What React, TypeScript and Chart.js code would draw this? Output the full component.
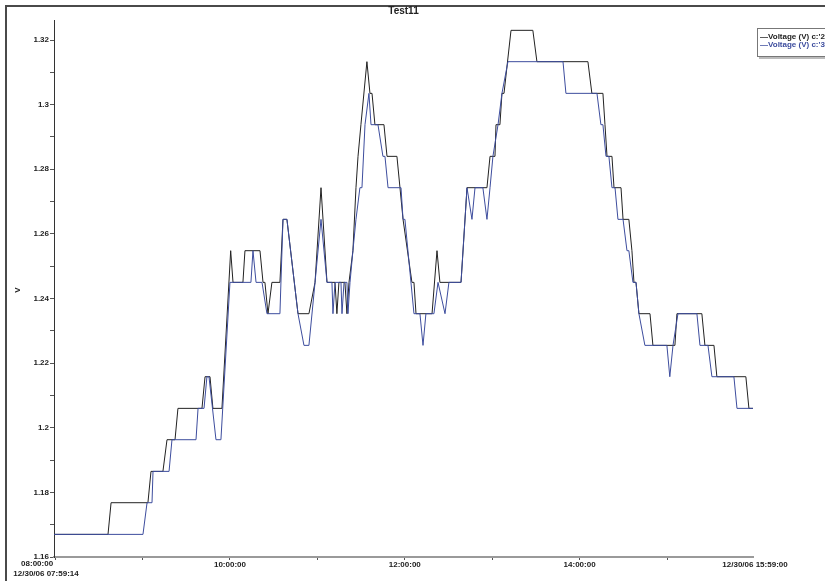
import { useEffect, useRef } from "react";
import { Chart, registerables } from "chart.js";

Chart.register(...registerables);

const FONT = '"Liberation Sans", Arial, sans-serif';

const chartTitle = "Test11";
const yAxisTitle = "V";
const seriesNames = ["Voltage (V) c:'2", "Voltage (V) c:'3"];
const seriesColors = ["#222222", "#3d4d9e"];

// minutes after 08:00:00
const xMin = -0.77; // 07:59:14
const xMax = 479; // 15:59:00
const hourTicks = [0, 60, 120, 180, 240, 300, 360, 420];
const hourLabels = ["08:00:00", "", "10:00:00", "", "12:00:00", "", "14:00:00", ""];
const startLabel = "12/30/06 07:59:14";
const endLabel = "12/30/06 15:59:00";

const yMin = 1.16;
const yMax = 1.3262;
const yTickValues = [1.16, 1.17, 1.18, 1.19, 1.2, 1.21, 1.22, 1.23, 1.24, 1.25, 1.26, 1.27, 1.28, 1.29, 1.3, 1.31, 1.32];
const yTickLabels = ["1.16", "", "1.18", "", "1.2", "", "1.22", "", "1.24", "", "1.26", "", "1.28", "", "1.3", "", "1.32"];

const series2Times = [
  -0.77, 36.3, 38.4, 63.7, 65.8, 74.0, 76.8, 82.3, 84.3, 100.8,
  102.9, 106.3, 108.3, 114.5, 120.5, 122.1, 128.9, 130.3, 140.6, 142.7,
  144.0, 146.1, 148.8, 154.3, 156.4, 159.1, 166.7, 174.2, 178.4, 182.5,
  186.6, 192.1, 193.4, 194.8, 198.9, 200.3, 201.7, 204.4, 206.5, 207.9,
  209.9, 214.0, 216.1, 217.5, 219.5, 225.7, 227.8, 234.6, 236.7, 238.8,
  244.9, 246.3, 247.7, 258.7, 262.1, 264.1, 278.6, 282.7, 296.4, 298.5,
  301.9, 302.6, 305.3, 306.7, 308.1, 312.9, 327.9, 330.7, 365.7, 368.4,
  376.0, 377.4, 378.8, 382.2, 383.6, 388.4, 389.8, 393.8, 395.9, 397.3,
  398.7, 400.7, 408.3, 410.3, 425.4, 426.8, 443.9, 446.0, 452.2, 454.2,
  474.1, 476.2, 479.0,
];
const series2Volts = [
  1.167, 1.167, 1.1768, 1.1768, 1.1865, 1.1865, 1.1963, 1.1963, 1.206, 1.206,
  1.2158, 1.2158, 1.206, 1.206, 1.2548, 1.245, 1.245, 1.2548, 1.2548, 1.245,
  1.245, 1.2353, 1.245, 1.245, 1.2645, 1.2645, 1.2353, 1.2353, 1.245, 1.2743,
  1.245, 1.245, 1.2353, 1.245, 1.245, 1.2353, 1.245, 1.2548, 1.2743, 1.284,
  1.2938, 1.3133, 1.3035, 1.3035, 1.2938, 1.2938, 1.284, 1.284, 1.2743, 1.2645,
  1.245, 1.245, 1.2353, 1.2353, 1.2548, 1.245, 1.245, 1.2743, 1.2743, 1.284,
  1.284, 1.2938, 1.2938, 1.3035, 1.3035, 1.323, 1.323, 1.3133, 1.3133, 1.3035,
  1.3035, 1.2938, 1.284, 1.284, 1.2743, 1.2743, 1.2645, 1.2645, 1.2548, 1.245,
  1.245, 1.2353, 1.2353, 1.2255, 1.2255, 1.2353, 1.2353, 1.2255, 1.2255, 1.2158,
  1.2158, 1.206, 1.206,
];

const series3Times = [
  -0.77, 60.3, 63.1, 66.5, 67.2, 78.2, 80.2, 96.7, 98.1, 102.2,
  104.2, 105.6, 110.4, 113.8, 120.0, 134.4, 135.8, 137.9, 142.0, 145.4,
  154.3, 156.4, 159.1, 166.7, 170.8, 174.2, 178.4, 182.5, 186.6, 190.0,
  190.7, 192.1, 196.2, 196.9, 198.3, 200.3, 201.0, 202.4, 204.4, 206.5,
  209.2, 210.6, 212.7, 215.4, 216.8, 221.6, 225.0, 226.4, 228.5, 237.4,
  238.8, 240.1, 246.3, 250.4, 252.5, 254.5, 260.0, 262.8, 267.6, 270.3,
  278.6, 282.7, 286.1, 288.2, 293.6, 296.4, 298.5, 300.5, 304.0, 306.7,
  310.8, 348.6, 350.6, 371.9, 374.6, 376.0, 378.1, 380.1, 382.2, 384.3,
  386.3, 389.8, 392.5, 393.8, 396.6, 398.7, 400.7, 404.8, 419.9, 421.9,
  424.1, 427.5, 440.5, 442.6, 448.1, 450.8, 465.9, 468.0, 479.0,
];
const series3Volts = [
  1.167, 1.167, 1.1768, 1.1768, 1.1865, 1.1865, 1.1963, 1.1963, 1.206, 1.206,
  1.2158, 1.2158, 1.1963, 1.1963, 1.245, 1.245, 1.2548, 1.245, 1.245, 1.2353,
  1.2353, 1.2645, 1.2645, 1.2353, 1.2255, 1.2255, 1.245, 1.2645, 1.245, 1.245,
  1.2353, 1.245, 1.245, 1.2353, 1.245, 1.245, 1.2353, 1.245, 1.2548, 1.2645,
  1.2743, 1.2743, 1.2938, 1.3035, 1.2938, 1.2938, 1.284, 1.284, 1.2743, 1.2743,
  1.2645, 1.2645, 1.2353, 1.2353, 1.2255, 1.2353, 1.2353, 1.245, 1.2353, 1.245,
  1.245, 1.2743, 1.2645, 1.2743, 1.2743, 1.2645, 1.2743, 1.284, 1.2938, 1.3035,
  1.3133, 1.3133, 1.3035, 1.3035, 1.2938, 1.2938, 1.284, 1.284, 1.2743, 1.2743,
  1.2645, 1.2645, 1.2548, 1.2548, 1.245, 1.245, 1.2353, 1.2255, 1.2255, 1.2158,
  1.2255, 1.2353, 1.2353, 1.2255, 1.2255, 1.2158, 1.2158, 1.206, 1.206,
];

const W = 825;
const H = 581;

const decor = {
  id: "decor",
  beforeDraw(chart: any) {
    const ctx = chart.ctx;
    ctx.save();
    ctx.fillStyle = "#ffffff";
    ctx.fillRect(0, 0, W, H);
    ctx.strokeStyle = "#4a4a4a";
    ctx.lineWidth = 2;
    ctx.beginPath();
    ctx.moveTo(6, H);
    ctx.lineTo(6, 6);
    ctx.lineTo(W, 6);
    ctx.stroke();
    ctx.restore();
  },
  afterDraw(chart: any) {
    const ctx = chart.ctx;
    const xs = chart.scales.x;
    const area = chart.chartArea;
    ctx.save();
    // title
    ctx.fillStyle = "#222";
    ctx.font = `bold 10px ${FONT}`;
    ctx.textAlign = "center";
    ctx.textBaseline = "middle";
    ctx.fillText(chartTitle, (area.left + area.right) / 2, 11);
    // y title
    ctx.save();
    ctx.translate(18, 290);
    ctx.rotate(-Math.PI / 2);
    ctx.font = `bold 8px ${FONT}`;
    ctx.fillText(yAxisTitle, 0, 0);
    ctx.restore();
    // x labels
    ctx.font = `bold 8px ${FONT}`;
    ctx.textBaseline = "middle";
    hourTicks.forEach((t, i) => {
      const lbl = hourLabels[i];
      if (!lbl) return;
      const px = xs.getPixelForValue(t);
      if (i === 0) {
        ctx.textAlign = "right";
        ctx.fillText(lbl, px - 2, 564);
      } else {
        ctx.textAlign = "center";
        ctx.fillText(lbl, px, 565);
      }
    });
    ctx.textAlign = "center";
    ctx.fillText(startLabel, xs.getPixelForValue(xMin) - 8, 574);
    ctx.fillText(endLabel, xs.getPixelForValue(xMax) + 2, 565);
    // legend
    const lx = 757;
    const ly = 28;
    ctx.fillStyle = "#bbbbbb";
    ctx.fillRect(lx + 2, ly + 2, 100, 29);
    ctx.fillStyle = "#ffffff";
    ctx.fillRect(lx, ly, 100, 29);
    ctx.strokeStyle = "#777";
    ctx.lineWidth = 1;
    ctx.strokeRect(lx + 0.5, ly + 0.5, 100, 28);
    ctx.textAlign = "left";
    ctx.textBaseline = "middle";
    seriesNames.forEach((name, i) => {
      ctx.fillStyle = seriesColors[i];
      ctx.fillText("\u2014" + name, lx + 3, ly + 8.5 + i * 8.5);
    });
    ctx.restore();
  },
};

export default function App() {
  const ref = useRef<HTMLCanvasElement>(null);
  useEffect(() => {
    const canvas = ref.current;
    if (!canvas) return;
    const toPts = (t: number[], v: number[]) => t.map((x, i) => ({ x, y: v[i] }));
    const chart = new Chart(canvas, {
      type: "line",
      data: {
        datasets: [
          {
            label: seriesNames[0],
            data: toPts(series2Times, series2Volts),
            borderColor: seriesColors[0],
            borderWidth: 1,
            pointRadius: 0,
            tension: 0,
            fill: false,
            order: 1,
          },
          {
            label: seriesNames[1],
            data: toPts(series3Times, series3Volts),
            borderColor: seriesColors[1],
            borderWidth: 1,
            pointRadius: 0,
            tension: 0,
            fill: false,
            order: 0,
          },
        ],
      },
      options: {
        responsive: false,
        animation: false,
        devicePixelRatio: 1,
        layout: { padding: { top: 20, right: 72, bottom: 0, left: 0 } },
        plugins: {
          legend: { display: false },
          title: { display: false },
          tooltip: { enabled: false },
        },
        scales: {
          x: {
            type: "linear",
            min: xMin,
            max: xMax,
            afterBuildTicks: (s: any) => {
              s.ticks = hourTicks.map((v) => ({ value: v }));
            },
            afterFit: (s: any) => {
              s.height = 24;
            },
            ticks: { callback: () => "", autoSkip: false },
            grid: { drawOnChartArea: false, drawTicks: true, tickLength: 3, tickColor: "#555" },
            border: { color: "#9a9a9a", width: 2 },
          },
          y: {
            type: "linear",
            min: yMin,
            max: yMax,
            afterBuildTicks: (s: any) => {
              s.ticks = yTickValues.map((v) => ({ value: v }));
            },
            afterFit: (s: any) => {
              s.width = 54;
            },
            ticks: {
              callback: (_v: any, i: number) => yTickLabels[i],
              autoSkip: false,
              font: { family: FONT, size: 8, weight: "bold" },
              color: "#222",
              padding: 1,
            },
            grid: { drawOnChartArea: false, drawTicks: true, tickLength: 4, tickColor: "#555" },
            border: { color: "#333", width: 1 },
          },
        },
      } as any,
      plugins: [decor],
    });
    return () => chart.destroy();
  }, []);
  return (
    <div style={{ position: "fixed", left: 0, top: 0, width: W, height: H, background: "#fff" }}>
      <canvas ref={ref} width={W} height={H} style={{ display: "block", width: W, height: H }} />
    </div>
  );
}
